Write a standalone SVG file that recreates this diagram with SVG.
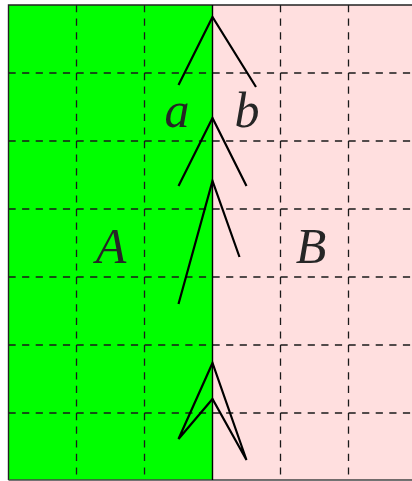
<svg xmlns="http://www.w3.org/2000/svg" width="412" height="481" viewBox="0 0 412 481">
<style>
.grid{stroke:#1a1a1a;stroke-width:1.3;stroke-dasharray:7.2 6.4;fill:none}
.tree{stroke:#000;stroke-width:2.2;fill:none;stroke-linejoin:miter;stroke-linecap:butt}
.lbl{font-family:"Liberation Serif","DejaVu Serif",serif;font-style:italic;font-size:50px;fill:#262626;text-anchor:middle}
</style>
<rect width="412" height="481" fill="#ffffff"/>
<g id="regionA"><rect x="8.5" y="5" width="204" height="475" fill="#00ff00"/></g>
<g id="regionB"><rect x="212.5" y="5" width="205" height="475" fill="#ffdfdf"/></g>
<g id="grid">
<path class="grid" d="M76.5 5V480M144.5 5V480M280.5 5V480M348.5 5V480"/>
<path class="grid" d="M8.5 73H412M8.5 141H412M8.5 209H412M8.5 277H412M8.5 345H412M8.5 413H412"/>
</g>
<g id="frame" fill="none">
<path d="M8.5 480V5H412" stroke="#222" stroke-width="1.4"/>
<path d="M8.5 480H412" stroke="#444" stroke-width="1.4"/>
<path d="M212.5 5V480" stroke="#000" stroke-width="1.4"/>
</g>
<g id="connectors">
<path class="tree" d="M178.5 85L212.5 17L256 87"/>
<path class="tree" d="M178.5 186L212.5 118L246.5 186"/>
<path class="tree" d="M178.5 304L212.5 181L239.5 257"/>
<path class="tree" d="M246.5 460L212.5 363L178.5 439L212.5 399Z"/>
</g>
<g id="labels">
<text class="lbl" x="177" y="127">a</text>
<text class="lbl" x="247" y="127">b</text>
<text class="lbl" x="111" y="263">A</text>
<text class="lbl" x="311" y="263">B</text>
</g>
</svg>
